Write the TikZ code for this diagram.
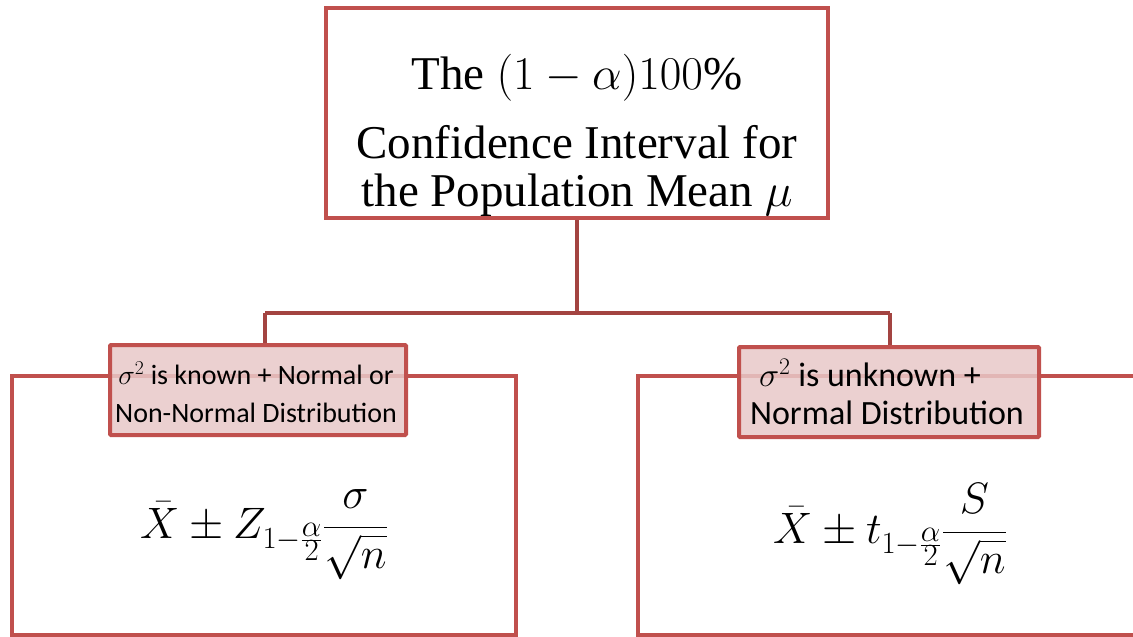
\RequirePackage{fix-cm}
\documentclass[tikz,border=0pt]{standalone}
\usepackage{fontspec}
\setmainfont{Liberation Serif}
\newfontfamily\calib{Carlito}
\definecolor{boxred}{HTML}{C0504D}
\definecolor{labfill}{HTML}{E8C8C8}
\begin{document}
\begin{tikzpicture}[x=1pt,y=-1pt,
  frame/.style={draw=boxred,line width=4.5pt},
  conn/.style={draw=boxred!85!black,line width=4.5pt},
  lab/.style={draw=boxred,line width=4pt,fill=labfill,fill opacity=0.85,text opacity=1,rounded corners=1pt,inner sep=0pt,align=center},
  formula/.style={font=\fontsize{44}{48}\selectfont,anchor=base,inner sep=0pt},
  ]
\useasboundingbox (0,0) rectangle (1133,637);
% top box
\node[frame,minimum width=502pt,minimum height=210pt,inner sep=0pt] (top) at (577,113) {};
\node[font=\fontsize{47}{48}\selectfont,align=center] (toptext) at (577,135.5) {The $(1-\alpha)100\%$\\[21pt]Confidence Interval for\\the Population Mean $\mu$};
% big boxes
\draw[frame] (12,637) -- (12,376) -- (516,376) -- (516,635) -- (12,635) -- cycle;
\draw[frame] (1140,635) -- (638,635) -- (638,376) -- (1140,376);
% connectors
\coordinate (split) at (577,313);
\coordinate (jl) at (265,313);
\coordinate (jr) at (890,313);
\draw[conn] (top.south) -- (split);
\draw[conn] (jl) -- (jr);
% labels
\node[lab,minimum width=296pt,minimum height=90pt] (ll) at (258,390) {};
\node[lab,minimum width=300pt,minimum height=90pt] (rl) at (889,392) {};
\draw[conn] (jl) -- (ll.north -| jl);
\draw[conn] (jr) -- (rl.north -| jr);
\node[font=\calib\fontsize{28}{38}\selectfont,align=center] (lt) at (256,392) {$\sigma^2$ is known + Normal or\\Non-Normal Distribution};
\node[font=\calib\fontsize{34}{38}\selectfont,align=left] (rt) at (887,392) {\hspace*{9pt}$\sigma^2$ is unknown +\\Normal Distribution};
% formulas
\node[formula] (lf) at (264,538) {$\displaystyle \bar{X}\pm Z_{1-\frac{\scriptstyle\alpha}{\scriptstyle 2}}\frac{\sigma}{\sqrt{n}}$};
\node[formula] (rf) at (890,543) {$\displaystyle \bar{X}\pm t_{1-\frac{\scriptstyle\alpha}{\scriptstyle 2}}\frac{S}{\sqrt{n}}$};
\end{tikzpicture}
\end{document}
